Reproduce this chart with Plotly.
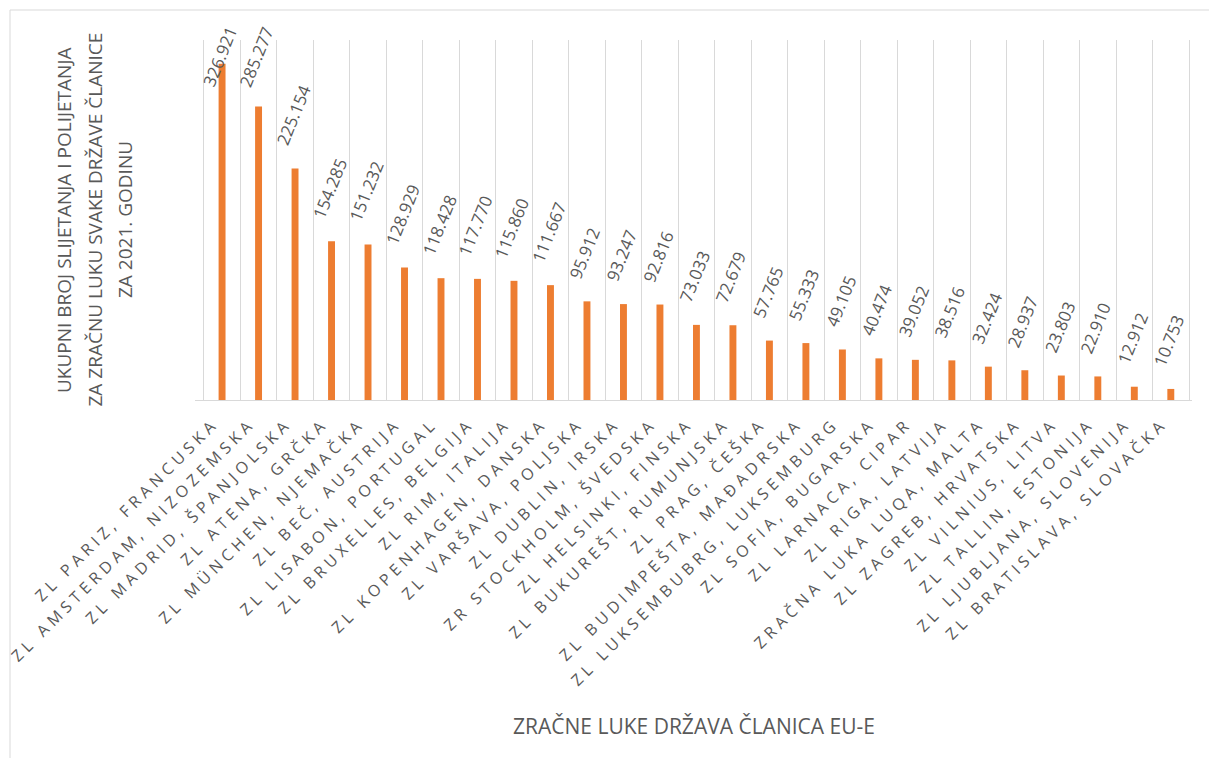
import plotly.graph_objects as go

categories = [
    "ZL PARIZ, FRANCUSKA", "ZL AMSTERDAM, NIZOZEMSKA", "ZL MADRID, ŠPANJOLSKA",
    "ZL ATENA, GRČKA", "ZL MÜNCHEN, NJEMAČKA", "ZL BEČ, AUSTRIJA",
    "ZL LISABON, PORTUGAL", "ZL BRUXELLES, BELGIJA", "ZL RIM, ITALIJA",
    "ZL KOPENHAGEN, DANSKA", "ZL VARŠAVA, POLJSKA", "ZL DUBLIN, IRSKA",
    "ZR STOCKHOLM, ŠVEDSKA", "ZL HELSINKI, FINSKA", "ZL BUKUREŠT, RUMUNJSKA",
    "ZL PRAG, ČEŠKA", "ZL BUDIMPEŠTA, MAĐADRSKA", "ZL LUKSEMBUBRG, LUKSEMBURG",
    "ZL SOFIA, BUGARSKA", "ZL LARNACA, CIPAR", "ZL RIGA, LATVIJA",
    "ZRAČNA LUKA LUQA, MALTA", "ZL ZAGREB, HRVATSKA", "ZL VILNIUS, LITVA",
    "ZL TALLIN, ESTONIJA", "ZL LJUBLJANA, SLOVENIJA", "ZL BRATISLAVA, SLOVAČKA",
]
values = [
    326921, 285277, 225154, 154285, 151232, 128929, 118428, 117770, 115860,
    111667, 95912, 93247, 92816, 73033, 72679, 57765, 55333, 49105,
    40474, 39052, 38516, 32424, 28937, 23803, 22910, 12912, 10753,
]
labels = [f"{v:,}".replace(",", ".") for v in values]

y_title_lines = [
    "UKUPNI BROJ SLIJETANJA I POLIJETANJA",
    "ZA ZRAČNU LUKU SVAKE DRŽAVE ČLANICE",
    "ZA 2021. GODINU",
]
x_title = "ZRAČNE LUKE DRŽAVA ČLANICA EU-E"

W, H = 1209, 758
ML, MR, MT, MB = 195, 17, 40, 358
YMAX = 350000
plot_h = H - MT - MB
plot_w = W - ML - MR
base_px = MT + plot_h
TXT = "#595959"
FONT = "Open Sans"

fig = go.Figure()
fig.add_trace(go.Bar(
    x=categories, y=values, marker=dict(color="#ED7D31", line=dict(width=0)),
    hoverinfo="skip",
))

# data labels (rotated), kept inside the chart area like the source
annotations = []
gap, lab_h, top_lim = 17, 69, 24
for c, v, t in zip(categories, values, labels):
    bar_top = base_px - v * plot_h / YMAX
    bottom = max(bar_top - gap, top_lim + lab_h)
    annotations.append(dict(
        x=c, y=v, xref="x", yref="y", text=t, showarrow=False,
        textangle=-68, xanchor="center", yanchor="bottom",
        yshift=bar_top - bottom, xshift=-2,
        font=dict(family=FONT, size=17, color=TXT),
    ))

for i, line in enumerate(y_title_lines):
    annotations.append(dict(
        x=(64 + 30.5 * i - ML) / plot_w, y=0.5, xref="paper", yref="paper",
        text=line, showarrow=False, textangle=-90,
        xanchor="center", yanchor="middle",
        font=dict(family=FONT, size=19, color=TXT),
    ))
annotations.append(dict(
    x=0.5, y=(base_px - 726) / plot_h, xref="paper", yref="paper", text=x_title,
    showarrow=False, xanchor="center", yanchor="middle",
    font=dict(family=FONT, size=21, color=TXT),
))

fig.update_layout(
    width=W, height=H,
    margin=dict(l=ML, r=MR, t=MT, b=MB, autoexpand=False),
    paper_bgcolor="white", plot_bgcolor="white",
    bargap=0.81, showlegend=False,
    annotations=annotations,
    shapes=[dict(type="rect", xref="paper", yref="paper",
                 x0=(10 - ML) / plot_w, x1=(W + 5 - ML) / plot_w,
                 y0=(base_px - H - 10) / plot_h, y1=(base_px - 10) / plot_h,
                 line=dict(color="#D9D9D9", width=1), layer="below")],
    xaxis=dict(
        type="category", tickson="boundaries", showgrid=True,
        gridcolor="#D9D9D9", gridwidth=1, showline=True, linecolor="#D9D9D9",
        ticks="", tickangle=-45, ticklabelstandoff=7, ticklabelshift=-8,
        tickfont=dict(family=FONT, size=16, color=TXT), automargin=False,
    ),
    yaxis=dict(range=[0, YMAX], showgrid=False, showticklabels=False,
               zeroline=False, showline=False, ticks=""),
)

post = (
    "document.body.style.margin='0';"
    "var gd=document.getElementById('{plot_id}');"
    "gd.querySelectorAll('.xtick text').forEach("
    "function(t){t.style.letterSpacing='4.6px';});"
)
fig.write_html("out.html", post_script=post,
               config={"displayModeBar": False, "staticPlot": True})
